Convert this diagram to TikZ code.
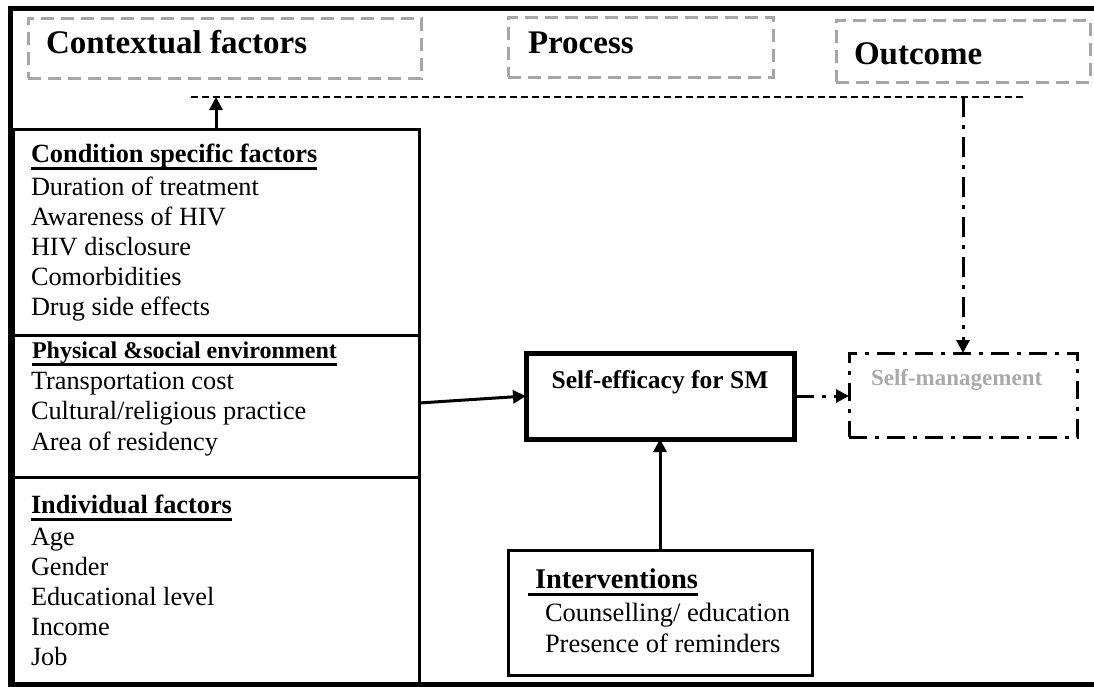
\documentclass[tikz,border=0pt]{standalone}
\usepackage{fontspec}
\setmainfont{Liberation Serif}
\usetikzlibrary{arrows.meta}
\definecolor{framegray}{RGB}{166,166,166}
\definecolor{labelgray}{RGB}{170,170,170}
% thick underline for the block headings
\newcommand\hdul[1]{\setbox0\hbox{#1}\rlap{\rule[-7.5pt]{\wd0}{2.6pt}}\box0}
\begin{document}
\begin{tikzpicture}[x=1pt,y=-1pt,
  every node/.style={inner sep=0pt, outer sep=0pt},
  boxnode/.style={draw, rectangle, line width=3pt, anchor=north west},
  hdrbox/.style={draw=framegray, rectangle, line width=3pt, dash pattern=on 13pt off 7pt, anchor=north west},
  hdr/.style={anchor=base west, font=\fontsize{33}{36}\selectfont\bfseries},
  body/.style={anchor=base west, font=\fontsize{26.3}{30}\selectfont},
  bodyhd/.style={anchor=base west, font=\fontsize{26.3}{30}\selectfont\bfseries},
  arr/.style={line width=3pt, -{Triangle[length=13pt,width=13pt]}},
  ddarr/.style={line width=3pt, dash pattern=on 20pt off 8pt on 4pt off 8pt, -{Triangle[length=13pt,width=13pt]}},
]
\useasboundingbox (0,0) rectangle (1094,686);

% outer frame (open on the right)
\draw[line width=5pt] (1094,8.5) -- (10,8.5) -- (10,684) -- (1094,684);

% column headers
\node[hdrbox, minimum width=393pt, minimum height=60pt] (ctx) at (28,18) {};
\node[hdrbox, minimum width=265pt, minimum height=60pt] (proc) at (508,17) {};
\node[hdrbox, minimum width=254pt, minimum height=62pt] (outc) at (836,20) {};
\node[hdr] (ctxt) at (46,53) {Contextual factors};
\node[hdr] (proct) at (528,53) {Process};
\node[hdr] (outct) at (854,64) {Outcome};

% dashed guide line under the headers
\coordinate (dl) at (191,97);
\coordinate (dr) at (1026,97);
\draw[line width=1.5pt, dash pattern=on 7pt off 4pt] (dl) -- (dr);
\coordinate (ctxtip) at (216,97);
\coordinate (outtop) at (963,97);

% contextual factor blocks
\node[boxnode, minimum width=405.5pt, minimum height=206pt] (cond) at (13.5,129) {};
\node[boxnode, minimum width=405.5pt, minimum height=142pt] (phys) at (13.5,335) {};
\node[boxnode, minimum width=405.5pt, minimum height=207pt] (indiv) at (13.5,477) {};

\node[bodyhd] (condh) at (31,162) {\hdul{Condition specific factors}};
\foreach \t [count=\i] in {Duration of treatment, Awareness of HIV, HIV disclosure, Comorbidities, Drug side effects}
  \node[body] (cond\i) at (31,{165+30*\i}) {\t};

\node[anchor=base west, font=\fontsize{24}{28}\selectfont\bfseries] (physh) at (32,358) {\hdul{Physical \&social environment}};
\foreach \t [count=\i] in {Transportation cost, Cultural/religious practice, Area of residency}
  \node[body] (phys\i) at (31,{358.5+30.5*\i}) {\t};

\node[bodyhd] (indivh) at (31,513) {\hdul{Individual factors}};
\foreach \t [count=\i] in {Age, Gender, Educational level, Income, Job}
  \node[body] (indiv\i) at (31,{515+30*\i}) {\t};

% process and outcome
\node[boxnode, line width=5pt, minimum width=268pt, minimum height=86pt] (se) at (526,353) {};
\node[anchor=base, font=\fontsize{25.5}{30}\selectfont\bfseries] (set) at (660,388) {Self-efficacy for SM};

\node[boxnode, dash pattern=on 18pt off 8pt on 4pt off 8pt, minimum width=228pt, minimum height=84pt] (sm) at (849,353) {};
\node[anchor=base west, text=labelgray, font=\fontsize{23}{28}\selectfont\bfseries] (smt) at (871,385) {Self-management};

\node[boxnode, minimum width=304pt, minimum height=125pt] (intv) at (508,550) {};
\node[anchor=base west, font=\fontsize{28.5}{32}\selectfont\bfseries] (intvh) at (528,588) {\hdul{\hspace{7pt}Interventions}};
\node[anchor=base west, font=\fontsize{26.5}{31}\selectfont] (intv1) at (545,621) {Counselling/ education};
\node[anchor=base west, font=\fontsize{26.5}{31}\selectfont] (intv2) at (545,652) {Presence of reminders};

% connectors
\draw[arr] (cond.north -| ctxtip) -- (ctxtip);
\draw[arr] ([yshift=3pt]phys.east) -- (se.west);
\draw[arr] (intv.north) -- (se.south);
\draw[ddarr] (se.east) -- (se.east -| sm.west);
\draw[ddarr] (outtop) -- (sm.north -| outtop);
\end{tikzpicture}
\end{document}
